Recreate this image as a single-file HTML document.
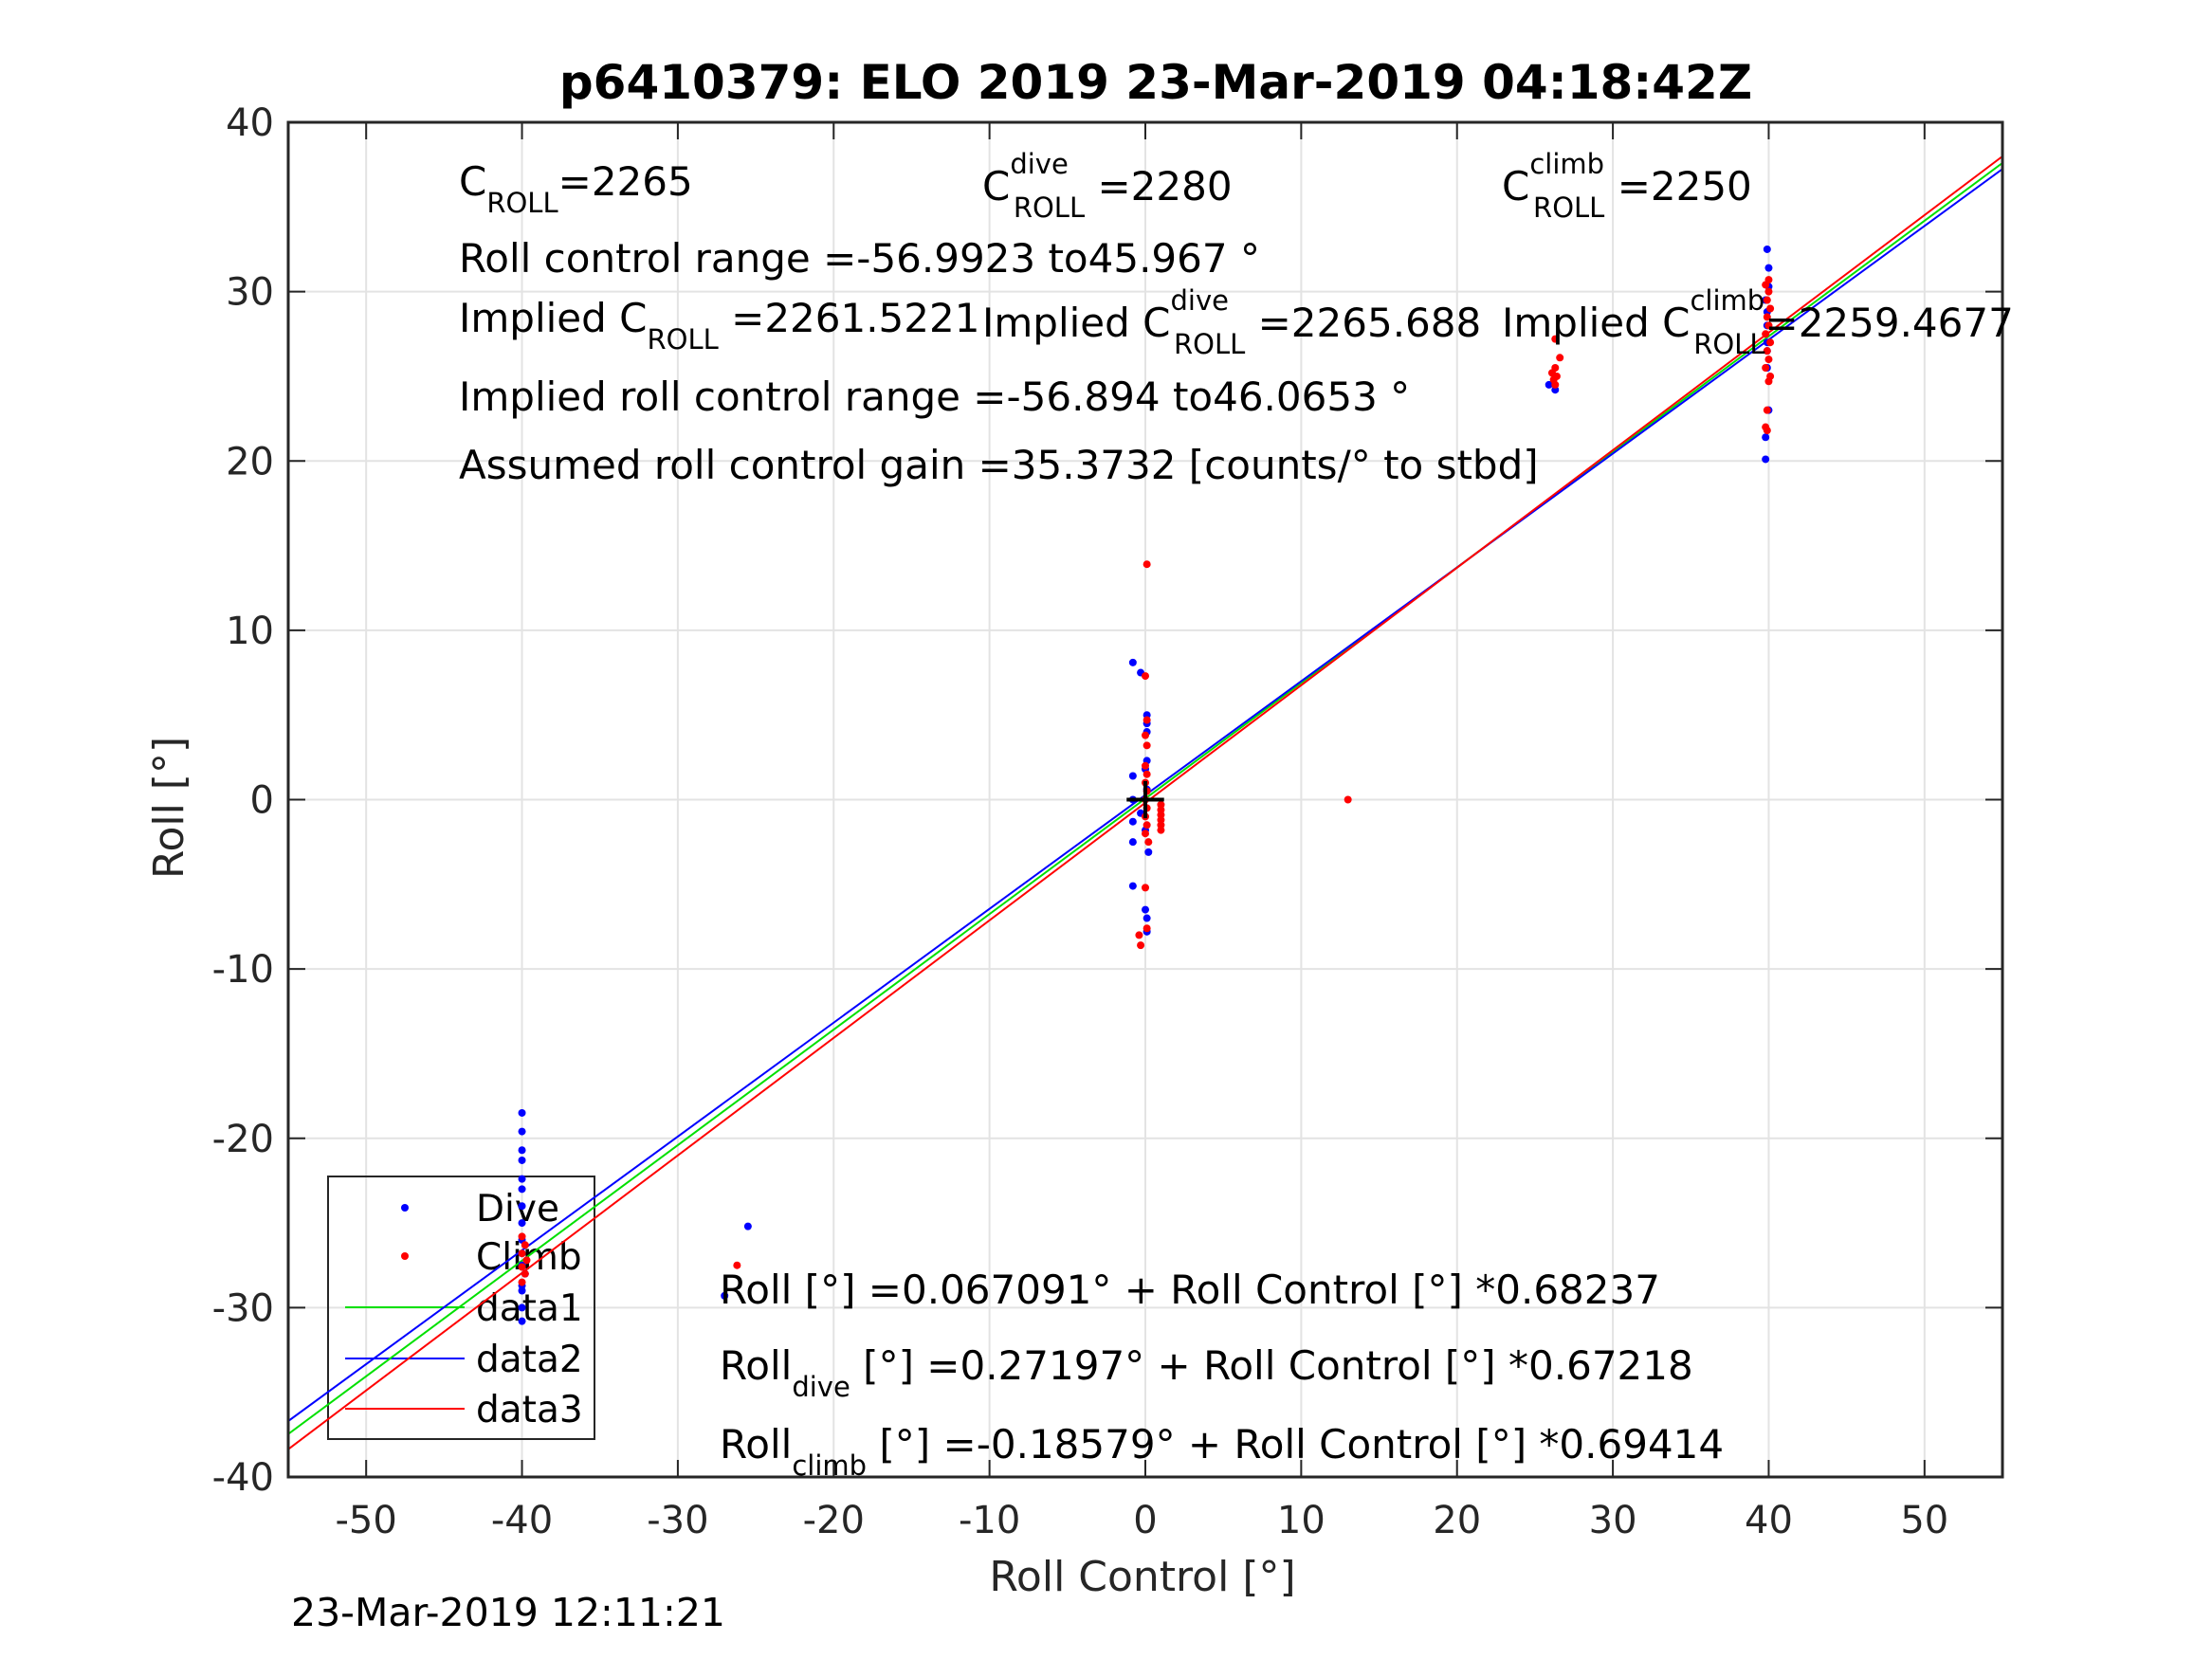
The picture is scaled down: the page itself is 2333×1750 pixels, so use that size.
<!DOCTYPE html>
<html><head><meta charset="utf-8"><style>
html,body{margin:0;padding:0;background:#fff;}
svg{display:block;font-family:"DejaVu Sans","Liberation Sans",sans-serif;}
</style></head><body>
<svg id="chart" width="2333" height="1750" viewBox="0 0 2333 1750" xmlns="http://www.w3.org/2000/svg">
<defs><clipPath id="clip"><rect x="304" y="129" width="1808" height="1429"/></clipPath></defs>
<rect x="0" y="0" width="2333" height="1750" fill="#fff"/>
<rect x="304" y="129" width="1808" height="1429" fill="#fff"/>
<g id="grid"></g>
<g id="legend">
<rect x="346" y="1241" width="281" height="277" fill="none" stroke="#262626" stroke-width="2"/>
</g>
<g id="lines" clip-path="url(#clip)"></g>
<g id="points" clip-path="url(#clip)"></g>
<g id="axes"></g>
<text x="1219" y="104" font-size="50" font-weight="bold" text-anchor="middle" fill="#000">p6410379: ELO 2019 23-Mar-2019 04:18:42Z</text>
<text x="1205" y="1678" font-size="44" text-anchor="middle" fill="#262626">Roll Control [°]</text>
<text transform="translate(193,852) rotate(-90)" font-size="44" text-anchor="middle" fill="#262626">Roll [°]</text>
<text x="307" y="1715" font-size="41" fill="#000">23-Mar-2019 12:11:21</text>
<g font-size="42" fill="#000">
<text x="484" y="206">C<tspan font-size="29" dy="18">ROLL</tspan><tspan dy="-18">=2265</tspan></text>
<text x="1036" y="211">C<tspan font-size="29" dy="-28">dive</tspan><tspan font-size="29" dx="-58" dy="46">ROLL</tspan><tspan dy="-18"> =2280</tspan></text>
<text x="1584" y="211">C<tspan font-size="29" dy="-28">climb</tspan><tspan font-size="29" dx="-75" dy="46">ROLL</tspan><tspan dy="-18"> =2250</tspan></text>
<text x="484" y="287">Roll control range =-56.9923 to45.967 °</text>
<text x="484" y="350">Implied C<tspan font-size="29" dy="18">ROLL</tspan><tspan dy="-18"> =2261.5221</tspan></text>
<text x="1036" y="355">Implied C<tspan font-size="29" dy="-28">dive</tspan><tspan font-size="29" dx="-58" dy="46">ROLL</tspan><tspan dy="-18"> =2265.688</tspan></text>
<text x="1584" y="355">Implied C<tspan font-size="29" dy="-28">climb</tspan><tspan font-size="29" dx="-75" dy="46">ROLL</tspan><tspan dy="-18">=2259.4677</tspan></text>
<text x="484" y="433">Implied roll control range =-56.894 to46.0653 °</text>
<text x="484" y="505">Assumed roll control gain =35.3732 [counts/° to stbd]</text>
<text x="759" y="1375">Roll [°] =0.067091° + Roll Control [°] *0.68237</text>
<text x="759" y="1455">Roll<tspan font-size="29" dy="18">dive</tspan><tspan dy="-18"> [°] =0.27197° + Roll Control [°] *0.67218</tspan></text>
<text x="759" y="1538">Roll<tspan font-size="29" dy="18">climb</tspan><tspan dy="-18"> [°] =-0.18579° + Roll Control [°] *0.69414</tspan></text>
</g>
</svg>
<script>
const xTicks = [-50,-40,-30,-20,-10,0,10,20,30,40,50];
const yTicks = [-40,-30,-20,-10,0,10,20,30,40];
const fitNames = ['data1','data2','data3'];
const fitColors = ['#00e000','#0000ff','#ff0000'];
const fitIntercepts = [0.067091,0.27197,-0.18579];
const fitSlopes = [0.68237,0.67218,0.69414];
const diveX = [-40,-40,-40,-40,-40,-40,-40,-40,-40,-40,-40,-39.8,-40,-40,-40,-40,-25.5,-27,
 -0.8,-0.3,0.1,0.1,0.1,0.1,0,-0.8,-0.8,-0.8,-0.8,0.2,-0.8,0,0.1,0.1,-0.3,0,0.1,
 25.9,26.3,39.9,40,40,39.8,39.9,39.9,39.9,39.9,40,39.8,39.8,39.9];
const diveY = [-18.5,-19.6,-20.7,-21.3,-22.4,-23,-24,-25,-26,-26.8,-27.5,-28,-29,-30,-30.8,-28.7,-25.2,-29.3,
 8.1,7.5,5,4.5,4,2.3,1.8,1.4,0,-1.3,-2.5,-3.1,-5.1,-6.5,-7,-7.8,-0.8,-1.8,0.6,
 24.5,24.2,32.5,31.4,30.3,29.5,28,27,26.5,25.5,23,21.4,20.1,28.8];
const climbX = [0.1,0,0.1,0,0.1,0,0.1,0,0.1,0,0.1,0,0.1,0,0.2,0,0.1,-0.3,-0.4,
 1,1,1,1,1,1,13,-26.2,-40,-39.8,-40,-39.7,-40,-39.8,-40,
 26.3,26.6,26.3,26.1,26.4,26.2,26.3,
 40,39.8,40,39.9,40.1,39.9,40,39.8,40.1,39.9,40,39.8,40.1,40,39.9,39.8,39.9];
const climbY = [13.9,7.3,4.7,3.8,3.2,2,1.5,1,0.5,0,-0.5,-1,-1.5,-2,-2.5,-5.2,-7.6,-8.6,-8,
 -0.3,-0.6,-0.9,-1.2,-1.5,-1.8,0,-27.5,-25.8,-26.3,-26.8,-27.2,-27.6,-28,-28.5,
 27.2,26.1,25.5,25.2,25,24.8,24.5,
 30.7,30.4,30,29.5,29,28.5,28,27.5,27,26.5,26,25.5,25,24.7,23,22,21.8];
const NS='http://www.w3.org/2000/svg';
const L=304,R=2112,T=129,B=1558,XMIN=-55,XMAX=55,YMIN=-40,YMAX=40;
function sx(v){return L+(v-XMIN)/(XMAX-XMIN)*(R-L);}
function sy(v){return B-(v-YMIN)/(YMAX-YMIN)*(B-T);}
function mk(tag,attrs,parent){const e=document.createElementNS(NS,tag);for(const k in attrs)e.setAttribute(k,attrs[k]);parent.appendChild(e);return e;}
const grid=document.getElementById('grid'),axes=document.getElementById('axes');
xTicks.forEach(v=>{
 const g=mk('line',{x1:sx(v),x2:sx(v),y1:T,y2:B,stroke:'#e3e3e3','stroke-width':2},grid);
 
 
 mk('line',{x1:sx(v),x2:sx(v),y1:B,y2:B-18,stroke:'#262626','stroke-width':2},axes);
 mk('line',{x1:sx(v),x2:sx(v),y1:T,y2:T+18,stroke:'#262626','stroke-width':2},axes);
 const t=mk('text',{x:sx(v),y:1617,'font-size':40,'text-anchor':'middle',fill:'#262626'},axes);
 t.textContent=v;
 
 
});
yTicks.forEach(v=>{
 const g=mk('line',{x1:L,x2:R,y1:sy(v),y2:sy(v),stroke:'#e3e3e3','stroke-width':2},grid);
 
 
 mk('line',{x1:L,x2:L+18,y1:sy(v),y2:sy(v),stroke:'#262626','stroke-width':2},axes);
 mk('line',{x1:R,x2:R-18,y1:sy(v),y2:sy(v),stroke:'#262626','stroke-width':2},axes);
 const t=mk('text',{x:289,y:sy(v)+14,'font-size':40,'text-anchor':'end',fill:'#262626'},axes);
 t.textContent=v;
 
 
});
const frame=mk('rect',{x:L,y:T,width:R-L,height:B-T,fill:'none',stroke:'#262626','stroke-width':3},axes);


const lines=document.getElementById('lines');
fitNames.forEach((n,i)=>{
 const l=mk('line',{x1:sx(XMIN),y1:sy(fitIntercepts[i]+fitSlopes[i]*XMIN),x2:sx(XMAX),y2:sy(fitIntercepts[i]+fitSlopes[i]*XMAX),stroke:fitColors[i],'stroke-width':2},lines);
 
 
});
const pts=document.getElementById('points');
diveX.forEach((x,i)=>{
 const c=mk('circle',{cx:sx(x),cy:sy(diveY[i]),r:4,fill:'#0000ff'},pts);
 
 
});
climbX.forEach((x,i)=>{
 const c=mk('circle',{cx:sx(x),cy:sy(climbY[i]),r:4,fill:'#ff0000'},pts);
 
 
});
const cross=mk('path',{d:`M${sx(-1.2)} ${sy(0)}H${sx(1.2)}M${sx(0)} ${sy(1.1)}V${sy(-1.1)}`,stroke:'#000','stroke-width':4},pts);


const leg=document.getElementById('legend');
const entries=[['Dive','dot','#0000ff',1274],['Climb','dot','#ff0000',1325],['data1','line',fitColors[0],1379],['data2','line',fitColors[1],1433],['data3','line',fitColors[2],1486]];
entries.forEach(e=>{
 if(e[1]==='dot') mk('circle',{cx:427,cy:e[3],r:4,fill:e[2]},leg);
 else mk('line',{x1:364,x2:490,y1:e[3],y2:e[3],stroke:e[2],'stroke-width':2},leg);
 const t=mk('text',{x:502,y:e[3]+14,'font-size':39,fill:'#000'},leg);
 t.textContent=e[0];
 
 
});
</script>
</body></html>
